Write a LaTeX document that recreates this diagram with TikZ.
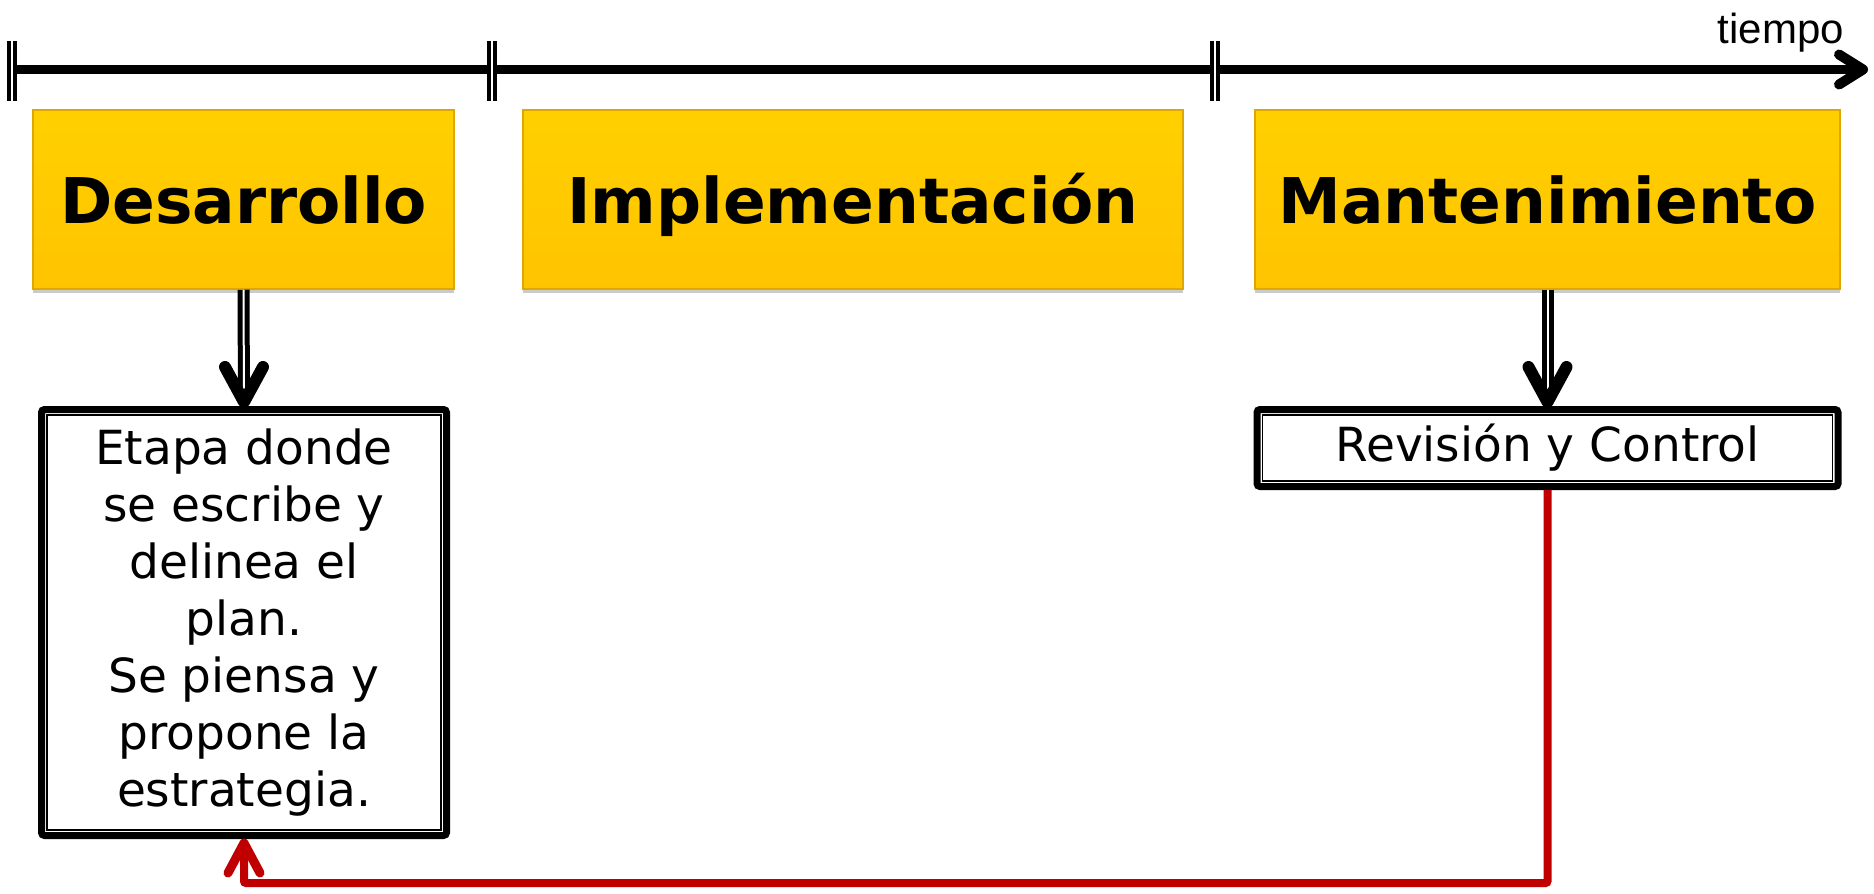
\documentclass[tikz,border=0pt]{standalone}
\usepackage{fontspec}
\setmainfont{DejaVu Sans}
\newfontfamily\arialfont{Liberation Sans}
\usetikzlibrary{shadows}
\definecolor{gold}{RGB}{255,196,0}
\definecolor{goldtop}{RGB}{255,208,0}
\definecolor{goldedge}{RGB}{222,168,0}
\definecolor{darkred}{RGB}{192,0,0}
\begin{document}
\begin{tikzpicture}[x=1pt,y=-1pt,
  phase/.style={draw=goldedge, line width=1.5pt, top color=goldtop, bottom color=gold,
    inner sep=0pt, text height=58pt, text depth=11pt, font=\fontsize{63}{70}\selectfont\bfseries,
    drop shadow={shadow xshift=0pt, shadow yshift=-4pt, opacity=0.35, fill=black!60}},
  dbox/.style={draw=black, line width=7pt, rounded corners=3pt, fill=white, inner sep=0pt,
    font=\fontsize{47}{57}\selectfont, align=center},
  innerframe/.style={line width=1.5pt},
  shaft/.style={line width=5pt, double=white, double distance=2pt},
  tickmark/.style={line width=4pt, double=white, double distance=1.8pt},
  chevblack/.style={line width=12pt, line cap=round, line join=round},
  axisline/.style={line width=9pt},
  redline/.style={line width=8pt, draw=darkred, rounded corners=2pt},
  redchev/.style={line width=9pt, draw=darkred, line cap=round, line join=round}
]
\useasboundingbox (0,0) rectangle (1874,894);

% time axis
\coordinate (ts) at (8,69.5);
\coordinate (te) at (1863,69.5);
\draw[axisline] (ts) -- (te);
\draw[chevblack, line width=10pt] ([shift={(-24,-15)}]te) -- (te) -- ([shift={(-24,15)}]te);
\foreach \x in {12,492,1215} \draw[tickmark] (\x,41) -- (\x,101);
\node[anchor=base east, font=\arialfont\fontsize{42}{50}\selectfont, inner sep=0pt] (tl) at (1844,43) {tiempo};

% phases
\node[phase, minimum width=421pt, minimum height=179pt] (d1) at (243.5,199.5) {Desarrollo};
\node[phase, minimum width=660pt, minimum height=179pt] (d2) at (853,199.5) {Implementación};
\node[phase, minimum width=585pt, minimum height=179pt] (d3) at (1547.5,199.5) {Mantenimiento};

% description boxes
\node[dbox, minimum width=405pt, minimum height=426pt] (e1) at (244,622.5)
  {Etapa donde\\se escribe y\\delinea el\\plan.\\Se piensa y\\propone la\\estrategia.};
\draw[innerframe] ([shift={(9,9)}]e1.north west) rectangle ([shift={(-9,-9)}]e1.south east);
\node[dbox, minimum width=581pt, minimum height=77pt] (e2) at (1547.5,448) {Revisión y Control};
\draw[innerframe] ([shift={(9,9)}]e2.north west) rectangle ([shift={(-9,-9)}]e2.south east);

% black arrows
\coordinate (tip1) at ([yshift=4pt]e1.north);
\draw[shaft] (d1.south) -- (tip1);
\draw[chevblack] ([shift={(-19,-35)}]tip1) -- (tip1) -- ([shift={(19,-35)}]tip1);
\coordinate (tip2) at ([yshift=4pt]e2.north);
\draw[shaft] (d3.south) -- (tip2);
\draw[chevblack] ([shift={(-19,-35)}]tip2) -- (tip2) -- ([shift={(19,-35)}]tip2);

% red feedback
\coordinate (bot) at (0,883);
\coordinate (tip3) at ([yshift=-4pt]e1.south);
\draw[redline] (e2.south) -- (e2.south |- bot) -- (tip3 |- bot) -- (tip3);
\draw[redchev] ([shift={(-16,30)}]tip3) -- (tip3) -- ([shift={(16,30)}]tip3);
\end{tikzpicture}
\end{document}
